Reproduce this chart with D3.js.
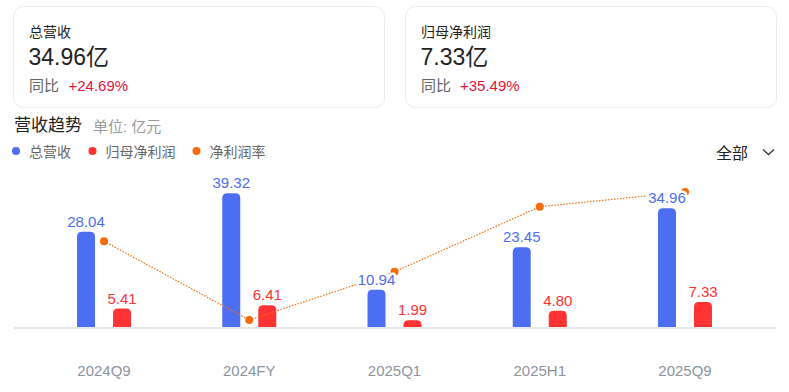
<!DOCTYPE html>
<html>
<head>
<meta charset="utf-8">
<script src="https://cdn.jsdelivr.net/npm/d3@7"></script>
<style>
  body { margin: 0; background: #fff; }
  text { font-family: "Liberation Sans", Arial, "Noto Sans CJK SC", sans-serif; }
</style>
</head>
<body>
<script>
var width = 789;
var height = 392;

// data
var categories = ['2024Q9', '2024FY', '2025Q1', '2025H1', '2025Q9'];
var revenue = [28.04, 39.32, 10.94, 23.45, 34.96];
var netProfit = [5.41, 6.41, 1.99, 4.80, 7.33];
var netMargin = [19.19, 16.30, 18.07, 20.46, 21.00];
var seriesNames = ['总营收', '归母净利润', '净利润率'];
var seriesColors = ['#4e6ef2', '#ff3333', '#f76b0b'];
var cards = [
  { title: '总营收', value: '34.96亿', yoy: '+24.69%' },
  { title: '归母净利润', value: '7.33亿', yoy: '+35.49%' }
];

var svg = d3.select('body')
            .append('svg')
            .attr('width', width)
            .attr('height', height);

// summary cards
var cardX = [13.5, 405.5];
var card = svg.selectAll('.card')
              .data(cards)
              .enter()
              .append('g')
              .attr('class', 'card')
              .attr('transform', function (d, i) { return 'translate(' + cardX[i] + ',6.5)'; });
card.append('rect')
    .attr('width', 371)
    .attr('height', 101)
    .attr('rx', 10)
    .attr('fill', '#fff')
    .attr('stroke', '#ebebeb');
card.append('text')
    .attr('x', 15.5).attr('y', 30)
    .attr('font-size', 14).attr('fill', '#222')
    .text(function (d) { return d.title; });
card.append('text')
    .attr('x', 15).attr('y', 58.5)
    .attr('font-size', 23).attr('fill', '#222')
    .text(function (d) { return d.value; });
card.append('text')
    .attr('x', 15.5).attr('y', 84)
    .attr('font-size', 15).attr('fill', '#666')
    .text('同比');
card.append('text')
    .attr('x', function (d, i) { return i === 0 ? 55 : 54.5; }).attr('y', 84)
    .attr('font-size', 15).attr('fill', '#e4133a')
    .text(function (d) { return d.yoy; });

// title
svg.append('text')
   .attr('x', 14).attr('y', 131)
   .attr('font-size', 17).attr('fill', '#222')
   .text('营收趋势');
svg.append('text')
   .attr('x', 93).attr('y', 132)
   .attr('font-size', 15).attr('fill', '#9a9a9a')
   .text('单位: 亿元');

// legend
var legendX = [16, 92.5, 196.5];
var legend = svg.selectAll('.legend')
                .data(seriesNames)
                .enter()
                .append('g')
                .attr('class', 'legend')
                .attr('transform', function (d, i) { return 'translate(' + legendX[i] + ',151)'; });
legend.append('circle')
      .attr('r', 4)
      .attr('fill', function (d, i) { return seriesColors[i]; });
legend.append('text')
      .attr('x', 13).attr('y', 5.5)
      .attr('font-size', 14).attr('fill', '#666')
      .text(function (d) { return d; });

// dropdown
svg.append('text')
   .attr('x', 716).attr('y', 159)
   .attr('font-size', 16).attr('fill', '#222')
   .text('全部');
svg.append('path')
   .attr('d', 'M763,149.5 L768.5,154.5 L774,149.5')
   .attr('fill', 'none')
   .attr('stroke', '#333')
   .attr('stroke-width', 1.3);

// scales
var baseY = 327;
var xScale = d3.scaleBand()
               .domain(categories)
               .range([31.4, 757.6]);
var x1 = d3.scaleBand()
           .domain([0, 1])
           .range([-27, 27])
           .paddingInner(0.5);
var yScale = d3.scaleLinear()
               .domain([0, 40])
               .range([baseY, 191]);
var rateScale = d3.scaleLinear()
                  .domain([16, 21])
                  .range([328.2, 192]);
function cx(c) { return xScale(c) + xScale.bandwidth() / 2; }

// baseline
svg.append('line')
   .attr('x1', 14).attr('x2', 776)
   .attr('y1', baseY + 1).attr('y2', baseY + 1)
   .attr('stroke', '#e8e8e8')
   .attr('stroke-width', 2);

// x axis labels
var xAxis = d3.axisBottom(xScale).tickSize(0).tickPadding(0);
var axisG = svg.append('g')
               .attr('transform', 'translate(0,' + 365 + ')')
               .call(xAxis);
axisG.select('.domain').remove();
axisG.selectAll('text')
     .attr('font-size', 15)
     .attr('fill', '#8e93a0')
     .attr('font-family', '"Liberation Sans", Arial, sans-serif');

// bars with rounded top
function barPath(x, w, y0, y1, r) {
  r = Math.min(r, (y0 - y1));
  return 'M' + x + ',' + y0 +
         'L' + x + ',' + (y1 + r) +
         'Q' + x + ',' + y1 + ' ' + (x + r) + ',' + y1 +
         'L' + (x + w - r) + ',' + y1 +
         'Q' + (x + w) + ',' + y1 + ' ' + (x + w) + ',' + (y1 + r) +
         'L' + (x + w) + ',' + y0 + 'Z';
}
var barSeries = [revenue, netProfit];
barSeries.forEach(function (vals, s) {
  svg.selectAll('.bar' + s)
     .data(vals)
     .enter()
     .append('path')
     .attr('class', 'bar' + s)
     .attr('fill', seriesColors[s])
     .attr('d', function (d, i) {
       var x = cx(categories[i]) + x1(s);
       return barPath(x, x1.bandwidth(), baseY, yScale(d), 5);
     });
});

// net margin line
var line = d3.line()
             .x(function (d, i) { return cx(categories[i]); })
             .y(function (d) { return rateScale(d); });
svg.append('path')
   .datum(netMargin)
   .attr('d', line)
   .attr('fill', 'none')
   .attr('stroke', seriesColors[2])
   .attr('stroke-width', 1.2)
   .attr('stroke-dasharray', '1.5,1.5');
svg.selectAll('.dot')
   .data(netMargin)
   .enter()
   .append('circle')
   .attr('class', 'dot')
   .attr('cx', function (d, i) { return cx(categories[i]); })
   .attr('cy', function (d) { return rateScale(d); })
   .attr('r', 4)
   .attr('fill', seriesColors[2]);

// value labels
barSeries.forEach(function (vals, s) {
  svg.selectAll('.lbl' + s)
     .data(vals)
     .enter()
     .append('text')
     .attr('class', 'lbl' + s)
     .attr('x', function (d, i) { return cx(categories[i]) + x1(s) + x1.bandwidth() / 2; })
     .attr('y', function (d) { return yScale(d) - 5; })
     .attr('text-anchor', 'middle')
     .attr('font-size', 15)
     .attr('fill', seriesColors[s])
     .attr('stroke', '#fff')
     .attr('stroke-width', 5)
     .attr('stroke-linejoin', 'round')
     .attr('paint-order', 'stroke')
     .text(function (d) { return d.toFixed(2); });
});
</script>
</body>
</html>
